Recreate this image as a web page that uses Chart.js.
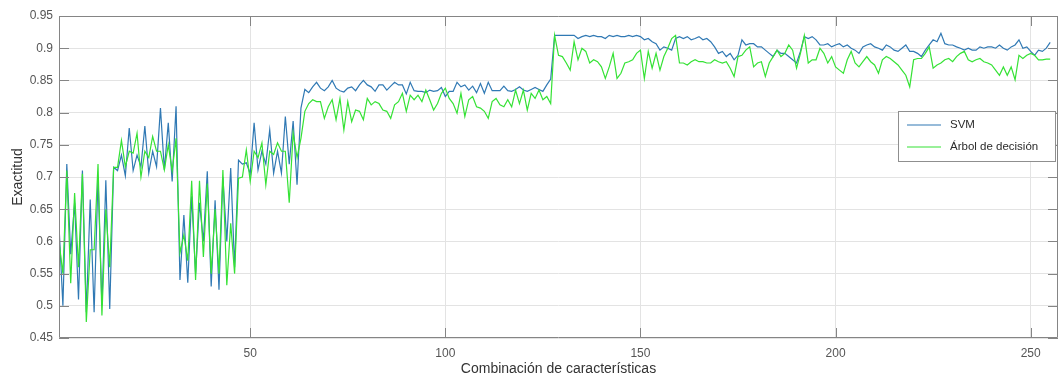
<!DOCTYPE html>
<html>
<head>
<meta charset="utf-8">
<script src="https://cdn.jsdelivr.net/npm/chart.js@4"></script>
<style>
  html, body { margin: 0; padding: 0; background: #fff; }
</style>
</head>
<body>
<canvas id="chart" width="1059" height="376"></canvas>
<script>
// values (x = 1..255)
const svmAcc = [
  0.625, 0.50, 0.72, 0.58, 0.66, 0.51, 0.71, 0.49, 0.665, 0.49, 0.70, 0.50, 0.695, 0.495, 0.715,
  0.71, 0.734, 0.702, 0.776, 0.71, 0.734, 0.716, 0.779, 0.706, 0.74, 0.716, 0.807, 0.711, 0.784, 0.693, 0.81,
  0.54, 0.641, 0.536, 0.67, 0.55, 0.66, 0.60, 0.709, 0.53, 0.664, 0.525, 0.70, 0.60, 0.714, 0.56, 0.726, 0.72, 0.722, 0.705,
  0.784, 0.711, 0.74, 0.72, 0.773, 0.706, 0.74, 0.706, 0.794, 0.72, 0.787, 0.688, 0.807,
  0.836, 0.831, 0.84, 0.847, 0.838, 0.834, 0.84, 0.85, 0.838, 0.834,
  0.832, 0.838, 0.84, 0.834, 0.843, 0.85, 0.843, 0.84, 0.833, 0.843,
  0.843, 0.835, 0.841, 0.847, 0.843, 0.843, 0.829, 0.847, 0.834, 0.833,
  0.833, 0.831, 0.835, 0.833, 0.834, 0.839, 0.825, 0.833, 0.833, 0.847,
  0.84, 0.843, 0.835, 0.841, 0.831, 0.845, 0.83, 0.847, 0.834, 0.834,
  0.834, 0.841, 0.834, 0.833, 0.836, 0.84, 0.835, 0.833, 0.836, 0.839,
  0.836, 0.833, 0.843, 0.852,
  0.92, 0.92, 0.92, 0.92, 0.92, 0.92,
  0.915, 0.918, 0.92, 0.918, 0.92, 0.918, 0.918, 0.915, 0.92, 0.918,
  0.92, 0.918, 0.918, 0.92, 0.918, 0.92, 0.918, 0.913, 0.915, 0.91,
  0.907, 0.897, 0.902, 0.90, 0.897, 0.915, 0.918, 0.915, 0.918, 0.913,
  0.915, 0.918, 0.913, 0.915, 0.91, 0.902, 0.892, 0.895, 0.887, 0.892,
  0.882, 0.889, 0.913, 0.905, 0.907, 0.907, 0.902, 0.902, 0.897, 0.892,
  0.887, 0.897, 0.892, 0.892, 0.887, 0.882, 0.877, 0.895,
  0.918, 0.915, 0.918, 0.913, 0.905, 0.905, 0.907, 0.902, 0.905, 0.907,
  0.902, 0.905, 0.90, 0.897, 0.892, 0.902, 0.905, 0.907, 0.902, 0.90,
  0.897, 0.905, 0.902, 0.897, 0.895, 0.90, 0.905, 0.895, 0.895, 0.892,
  0.887, 0.897, 0.905, 0.913, 0.91, 0.923, 0.907, 0.905, 0.905, 0.902,
  0.90, 0.897, 0.90, 0.897, 0.897, 0.902, 0.90, 0.902, 0.902, 0.90,
  0.905, 0.90, 0.897, 0.902, 0.905, 0.913, 0.90, 0.902, 0.895, 0.889,
  0.897, 0.895, 0.90, 0.909
];

const treeAcc = [
  0.60, 0.55, 0.71, 0.535, 0.675, 0.56, 0.705, 0.475, 0.587, 0.587, 0.72, 0.485, 0.65, 0.56, 0.715,
  0.715, 0.757, 0.716, 0.74, 0.737, 0.768, 0.70, 0.74, 0.73, 0.763, 0.74, 0.74, 0.711, 0.75, 0.71, 0.76,
  0.582, 0.61, 0.57, 0.694, 0.54, 0.694, 0.576, 0.69, 0.55, 0.65, 0.55, 0.711, 0.532, 0.628, 0.55, 0.698, 0.70, 0.742, 0.693,
  0.74, 0.73, 0.753, 0.688, 0.74, 0.735, 0.753, 0.74, 0.74, 0.66, 0.768, 0.73, 0.76,
  0.802, 0.814, 0.82, 0.817, 0.817, 0.791, 0.809, 0.82, 0.789, 0.822,
  0.773, 0.817, 0.786, 0.804, 0.802, 0.789, 0.822, 0.812, 0.817, 0.814,
  0.804, 0.802, 0.791, 0.812, 0.817, 0.83, 0.802, 0.827, 0.82, 0.827,
  0.817, 0.835, 0.82, 0.804, 0.814, 0.83, 0.838, 0.822, 0.814, 0.799,
  0.83, 0.794, 0.82, 0.825, 0.809, 0.807, 0.802, 0.791, 0.817, 0.822,
  0.812, 0.809, 0.82, 0.809, 0.835, 0.814, 0.835, 0.804, 0.83, 0.822,
  0.835, 0.82, 0.825, 0.814,
  0.92, 0.889, 0.887, 0.877, 0.866, 0.91, 0.882, 0.90, 0.895, 0.877,
  0.882, 0.879, 0.871, 0.853, 0.871, 0.892, 0.853, 0.861, 0.877, 0.879,
  0.882, 0.892, 0.897, 0.853, 0.895, 0.869, 0.892, 0.866, 0.887, 0.90,
  0.915, 0.92, 0.877, 0.877, 0.874, 0.879, 0.882, 0.879, 0.879, 0.877,
  0.877, 0.882, 0.879, 0.877, 0.879, 0.869, 0.856, 0.887, 0.889, 0.897,
  0.902, 0.871, 0.877, 0.879, 0.856, 0.877, 0.887, 0.897, 0.887, 0.892,
  0.905, 0.897, 0.869, 0.892,
  0.92, 0.877, 0.882, 0.882, 0.90, 0.892, 0.877, 0.887, 0.871, 0.866,
  0.861, 0.882, 0.895, 0.877, 0.871, 0.879, 0.887, 0.879, 0.874, 0.861,
  0.882, 0.887, 0.884, 0.879, 0.874, 0.866, 0.858, 0.84, 0.882, 0.884,
  0.884, 0.892, 0.902, 0.869, 0.874, 0.877, 0.882, 0.884, 0.879, 0.887,
  0.892, 0.895, 0.882, 0.879, 0.882, 0.884, 0.879, 0.877, 0.874, 0.866,
  0.858, 0.871, 0.858, 0.871, 0.851, 0.889, 0.884, 0.889, 0.892, 0.889,
  0.882, 0.882, 0.883, 0.883
];

const seriesNames = ['SVM', 'Árbol de decisión'];
const xTicks = [50, 100, 150, 200, 250];
const yTicks = [0.45, 0.5, 0.55, 0.6, 0.65, 0.7, 0.75, 0.8, 0.85, 0.9, 0.95];

const FONT = '"Liberation Sans", Arial, Helvetica, sans-serif';
const FRAME = '#858585';

// MATLAB-like box with inward ticks on all four sides, plus the legend box
const axesBox = {
  id: 'axesBox',
  afterDraw(chart) {
    const { ctx, chartArea: a, scales } = chart;
    ctx.save();
    ctx.strokeStyle = FRAME;
    ctx.lineWidth = 1;
    ctx.beginPath();
    ctx.rect(a.left + 0.5, a.top + 0.5, a.right - a.left - 1, a.bottom - a.top - 1);
    xTicks.forEach(v => {
      const px = Math.round(scales.x.getPixelForValue(v)) + 0.5;
      ctx.moveTo(px, a.bottom); ctx.lineTo(px, a.bottom - 10);
      ctx.moveTo(px, a.top); ctx.lineTo(px, a.top + 10);
    });
    yTicks.forEach(v => {
      const py = Math.round(scales.y.getPixelForValue(v)) + 0.5;
      ctx.moveTo(a.left, py); ctx.lineTo(a.left + 10, py);
      ctx.moveTo(a.right, py); ctx.lineTo(a.right - 10, py);
    });
    ctx.stroke();

    // legend
    const bx = 898.5, by = 111.5, bw = 157, bh = 50;
    ctx.fillStyle = '#fff';
    ctx.fillRect(bx, by, bw, bh);
    ctx.strokeStyle = '#8f8f8f';
    ctx.strokeRect(bx, by, bw, bh);
    ctx.font = '11.5px ' + FONT;
    ctx.textBaseline = 'middle';
    ctx.textAlign = 'left';
    chart.data.datasets.forEach((ds, i) => {
      const ly = 125 + i * 22;
      ctx.strokeStyle = ds.borderColor;
      ctx.lineWidth = 1.2;
      ctx.beginPath();
      ctx.moveTo(907, ly); ctx.lineTo(941, ly);
      ctx.stroke();
      ctx.fillStyle = '#2b2b2b';
      ctx.fillText(ds.label, 950, ly);
    });
    ctx.restore();
  }
};

new Chart(document.getElementById('chart'), {
  type: 'line',
  data: {
    datasets: [
      {
        label: seriesNames[0],
        data: svmAcc.map((v, i) => ({ x: i + 1, y: v })),
        borderColor: '#3079b4',
        borderWidth: 1.2,
        pointRadius: 0,
        tension: 0,
        order: 1
      },
      {
        label: seriesNames[1],
        data: treeAcc.map((v, i) => ({ x: i + 1, y: v })),
        borderColor: '#35e235',
        borderWidth: 1.2,
        pointRadius: 0,
        tension: 0,
        order: 0
      }
    ]
  },
  options: {
    responsive: false,
    animation: false,
    devicePixelRatio: 1,
    layout: { padding: { top: 16, right: 1, left: 0, bottom: 0 } },
    plugins: {
      legend: { display: false },
      tooltip: { enabled: false }
    },
    scales: {
      x: {
        type: 'linear',
        min: 1,
        max: 257,
        afterBuildTicks: s => { s.ticks = xTicks.map(v => ({ value: v })); },
        afterFit: s => { s.height = 38; },
        grid: { color: '#e3e3e3', drawTicks: false },
        border: { display: false },
        ticks: { color: '#555', font: { family: FONT, size: 12 }, padding: 8, maxRotation: 0 },
        title: {
          display: true,
          text: 'Combinación de características',
          color: '#333',
          font: { family: FONT, size: 14, lineHeight: 1 },
          padding: { top: 0, bottom: 0 }
        }
      },
      y: {
        min: 0.45,
        max: 0.95,
        afterBuildTicks: s => { s.ticks = yTicks.map(v => ({ value: v })); },
        afterFit: s => { s.width = 59; },
        grid: { color: '#e3e3e3', drawTicks: false },
        border: { display: false },
        ticks: { color: '#555', font: { family: FONT, size: 12 }, padding: 6, callback: v => String(v) },
        title: {
          display: true,
          text: 'Exactitud',
          color: '#333',
          font: { family: FONT, size: 14 },
          padding: { top: 10, bottom: 0 }
        }
      }
    }
  },
  plugins: [axesBox]
});
</script>
</body>
</html>
